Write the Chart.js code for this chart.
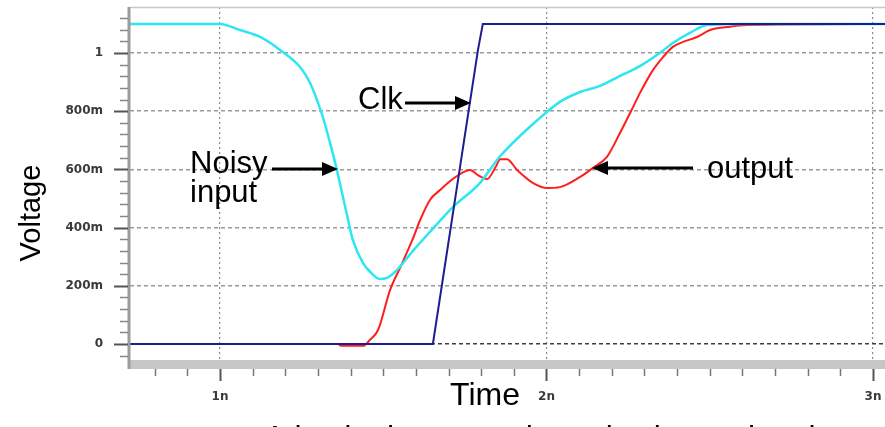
<!DOCTYPE html>
<html>
<head>
<meta charset="utf-8">
<script src="https://cdn.jsdelivr.net/npm/chart.js@4"></script>
<style>
  html, body { margin: 0; padding: 0; background: #fff; }
</style>
</head>
<body>
<canvas id="simChart" width="885" height="427"></canvas>
<script>
// time in ns, voltage in V
const inputTime  = [0.724, 1.0, 1.061, 1.123, 1.184, 1.245, 1.276, 1.297, 1.315, 1.337, 1.358, 1.389, 1.407, 1.438, 1.466, 1.49, 1.511, 1.542, 1.591, 1.643, 1.714, 1.796, 1.858, 1.98, 2.041, 2.103, 2.164, 2.225, 2.286, 2.347, 2.387, 2.439, 2.492, 2.6, 3.04];
const inputVolts = [1.1, 1.1, 1.079, 1.055, 1.01, 0.952, 0.897, 0.838, 0.78, 0.691, 0.598, 0.443, 0.357, 0.278, 0.241, 0.223, 0.227, 0.254, 0.32, 0.385, 0.471, 0.553, 0.645, 0.777, 0.832, 0.866, 0.887, 0.921, 0.955, 1.0, 1.034, 1.069, 1.096, 1.1, 1.1];

const clkTime  = [0.724, 1.652, 1.79, 1.805, 3.04];
const clkVolts = [0, 0, 1.01, 1.1, 1.1];

const outputTime  = [0.724, 1.361, 1.37, 1.44, 1.459, 1.484, 1.521, 1.555, 1.59, 1.613, 1.643, 1.674, 1.705, 1.744, 1.766, 1.79, 1.818, 1.845, 1.858, 1.879, 1.91, 1.959, 2.002, 2.041, 2.103, 2.142, 2.185, 2.225, 2.265, 2.286, 2.326, 2.357, 2.387, 2.418, 2.461, 2.501, 2.553, 2.614, 3.04];
const outputVolts = [0, 0, -0.006, -0.006, 0.014, 0.048, 0.186, 0.27, 0.36, 0.426, 0.495, 0.529, 0.56, 0.59, 0.598, 0.58, 0.567, 0.61, 0.635, 0.635, 0.598, 0.553, 0.536, 0.539, 0.574, 0.605, 0.643, 0.725, 0.814, 0.862, 0.941, 0.986, 1.021, 1.038, 1.055, 1.079, 1.089, 1.096, 1.1];

const xTickValues = [1, 2, 3];
const xTickLabels = ['1n', '2n', '3n'];
const yTickValues = [0, 0.2, 0.4, 0.6, 0.8, 1];
const yTickLabels = ['0', '200m', '400m', '600m', '800m', '1'];

function pts(xs, ys) {
  return xs.map((x, i) => ({ x: x, y: ys[i] }));
}

function noPad(s) {
  s.paddingLeft = 0;
  s.paddingRight = 0;
  s.paddingTop = 0;
  s.paddingBottom = 0;
}

function arrow(ctx, x1, x2, y) {
  const dir = x2 > x1 ? 1 : -1;
  const headLen = 16;
  ctx.strokeStyle = '#000';
  ctx.fillStyle = '#000';
  ctx.lineWidth = 3;
  ctx.beginPath();
  ctx.moveTo(x1, y);
  ctx.lineTo(x2 - dir * headLen, y);
  ctx.stroke();
  ctx.beginPath();
  ctx.moveTo(x2, y);
  ctx.lineTo(x2 - dir * headLen, y - 7);
  ctx.lineTo(x2 - dir * headLen, y + 7);
  ctx.closePath();
  ctx.fill();
}

const decorations = {
  id: 'decorations',
  afterDatasetsDraw(chart) {
    const ctx = chart.ctx;
    const area = chart.chartArea;
    const xs = chart.scales.x;
    const ys = chart.scales.y;
    ctx.save();

    // top border
    ctx.strokeStyle = '#c8c8c8';
    ctx.lineWidth = 1.5;
    ctx.beginPath();
    ctx.moveTo(area.left, area.top + 0.5);
    ctx.lineTo(area.right, area.top + 0.5);
    ctx.stroke();

    // grey band under the plot
    ctx.fillStyle = '#c6c6c6';
    ctx.fillRect(area.left, 360, area.right - area.left, 9);

    // left axis line
    ctx.strokeStyle = '#9c9c9c';
    ctx.lineWidth = 3;
    ctx.beginPath();
    ctx.moveTo(area.left - 1, area.top);
    ctx.lineTo(area.left - 1, 369);
    ctx.stroke();

    // y tick marks
    for (let k = -1; k <= 28; k++) {
      const v = k * 0.04;
      const py = Math.round(ys.getPixelForValue(v)) + 0.5;
      const major = k % 5 === 0;
      ctx.strokeStyle = major ? '#555' : '#888';
      ctx.lineWidth = major ? 2 : 1.5;
      ctx.beginPath();
      ctx.moveTo(major ? area.left - 16 : area.left - 10, py);
      ctx.lineTo(area.left - 2, py);
      ctx.stroke();
    }

    // x tick marks
    for (let k = 8; k <= 30; k++) {
      const v = k / 10;
      const px = Math.round(xs.getPixelForValue(v)) + 0.5;
      const major = k % 10 === 0;
      ctx.strokeStyle = major ? '#555' : '#777';
      ctx.lineWidth = major ? 2 : 1.5;
      ctx.beginPath();
      ctx.moveTo(px, 369);
      ctx.lineTo(px, major ? 381 : 376);
      ctx.stroke();
    }

    // annotations
    ctx.fillStyle = '#000';
    ctx.textBaseline = 'alphabetic';
    ctx.textAlign = 'left';
    ctx.font = '31px "Liberation Sans", Arial, sans-serif';
    ctx.fillText('Clk', 358, 109);
    ctx.fillText('Noisy', 190, 173);
    ctx.fillText('input', 190, 202);
    ctx.fillText('output', 707, 178);
    arrow(ctx, 405, 471, 103);
    arrow(ctx, 272, 338, 169);
    arrow(ctx, 693, 592, 168);

    // axis titles
    ctx.font = '32px "Liberation Sans", Arial, sans-serif';
    ctx.textAlign = 'center';
    ctx.fillText('Time', 485, 405);
    ctx.fillText('A latch cleans up the noisy input signal', 540, 448);

    ctx.save();
    ctx.translate(40, 213);
    ctx.rotate(-Math.PI / 2);
    ctx.font = '29px "Liberation Sans", Arial, sans-serif';
    ctx.fillText('Voltage', 0, 0);
    ctx.restore();

    ctx.restore();
  }
};

const ctx = document.getElementById('simChart').getContext('2d');
const chart = new Chart(ctx, {
  type: 'line',
  data: {
    datasets: [
      {
        label: 'Clk',
        data: pts(clkTime, clkVolts),
        borderColor: '#1d1d8f',
        borderWidth: 2,
        tension: 0,
        order: 1
      },
      {
        label: 'Noisy input',
        data: pts(inputTime, inputVolts),
        borderColor: '#2ee6f2',
        borderWidth: 2.5,
        cubicInterpolationMode: 'monotone',
        order: 2
      },
      {
        label: 'output',
        data: pts(outputTime, outputVolts),
        borderColor: '#ff1e1e',
        borderWidth: 2,
        cubicInterpolationMode: 'monotone',
        order: 3
      }
    ]
  },
  options: {
    responsive: false,
    animation: false,
    layout: { padding: { top: 7, left: 0, right: 0, bottom: 0 } },
    plugins: {
      legend: { display: false },
      tooltip: { enabled: false }
    },
    elements: { point: { radius: 0 } },
    scales: {
      x: {
        type: 'linear',
        min: 0.7243,
        max: 3.0368,
        afterFit: s => { s.height = 65; noPad(s); },
        afterBuildTicks: s => { s.ticks = xTickValues.map(v => ({ value: v })); },
        grid: { color: '#8a8a8a', lineWidth: 1.2, drawTicks: false },
        border: { display: false, dash: [2, 3] },
        ticks: {
          padding: 28,
          color: '#3a3a3a',
          maxRotation: 0,
          autoSkip: false,
          font: { family: 'DejaVu Sans', weight: 'bold', size: 12 },
          callback: v => xTickLabels[xTickValues.indexOf(v)]
        }
      },
      y: {
        min: -0.0619,
        max: 1.158,
        afterFit: s => { s.width = 130; noPad(s); },
        afterBuildTicks: s => { s.ticks = yTickValues.map(v => ({ value: v })); },
        grid: {
          color: c => c.tick && c.tick.value === 0 ? '#4a3a3a' : '#9a9a9a',
          lineWidth: 1.5,
          drawTicks: false
        },
        border: { display: false, dash: [4, 3] },
        ticks: {
          padding: 27,
          color: '#3a3a3a',
          font: { family: 'DejaVu Sans', weight: 'bold', size: 12 },
          callback: v => yTickLabels[yTickValues.indexOf(v)]
        }
      }
    }
  },
  plugins: [decorations]
});
</script>
</body>
</html>
